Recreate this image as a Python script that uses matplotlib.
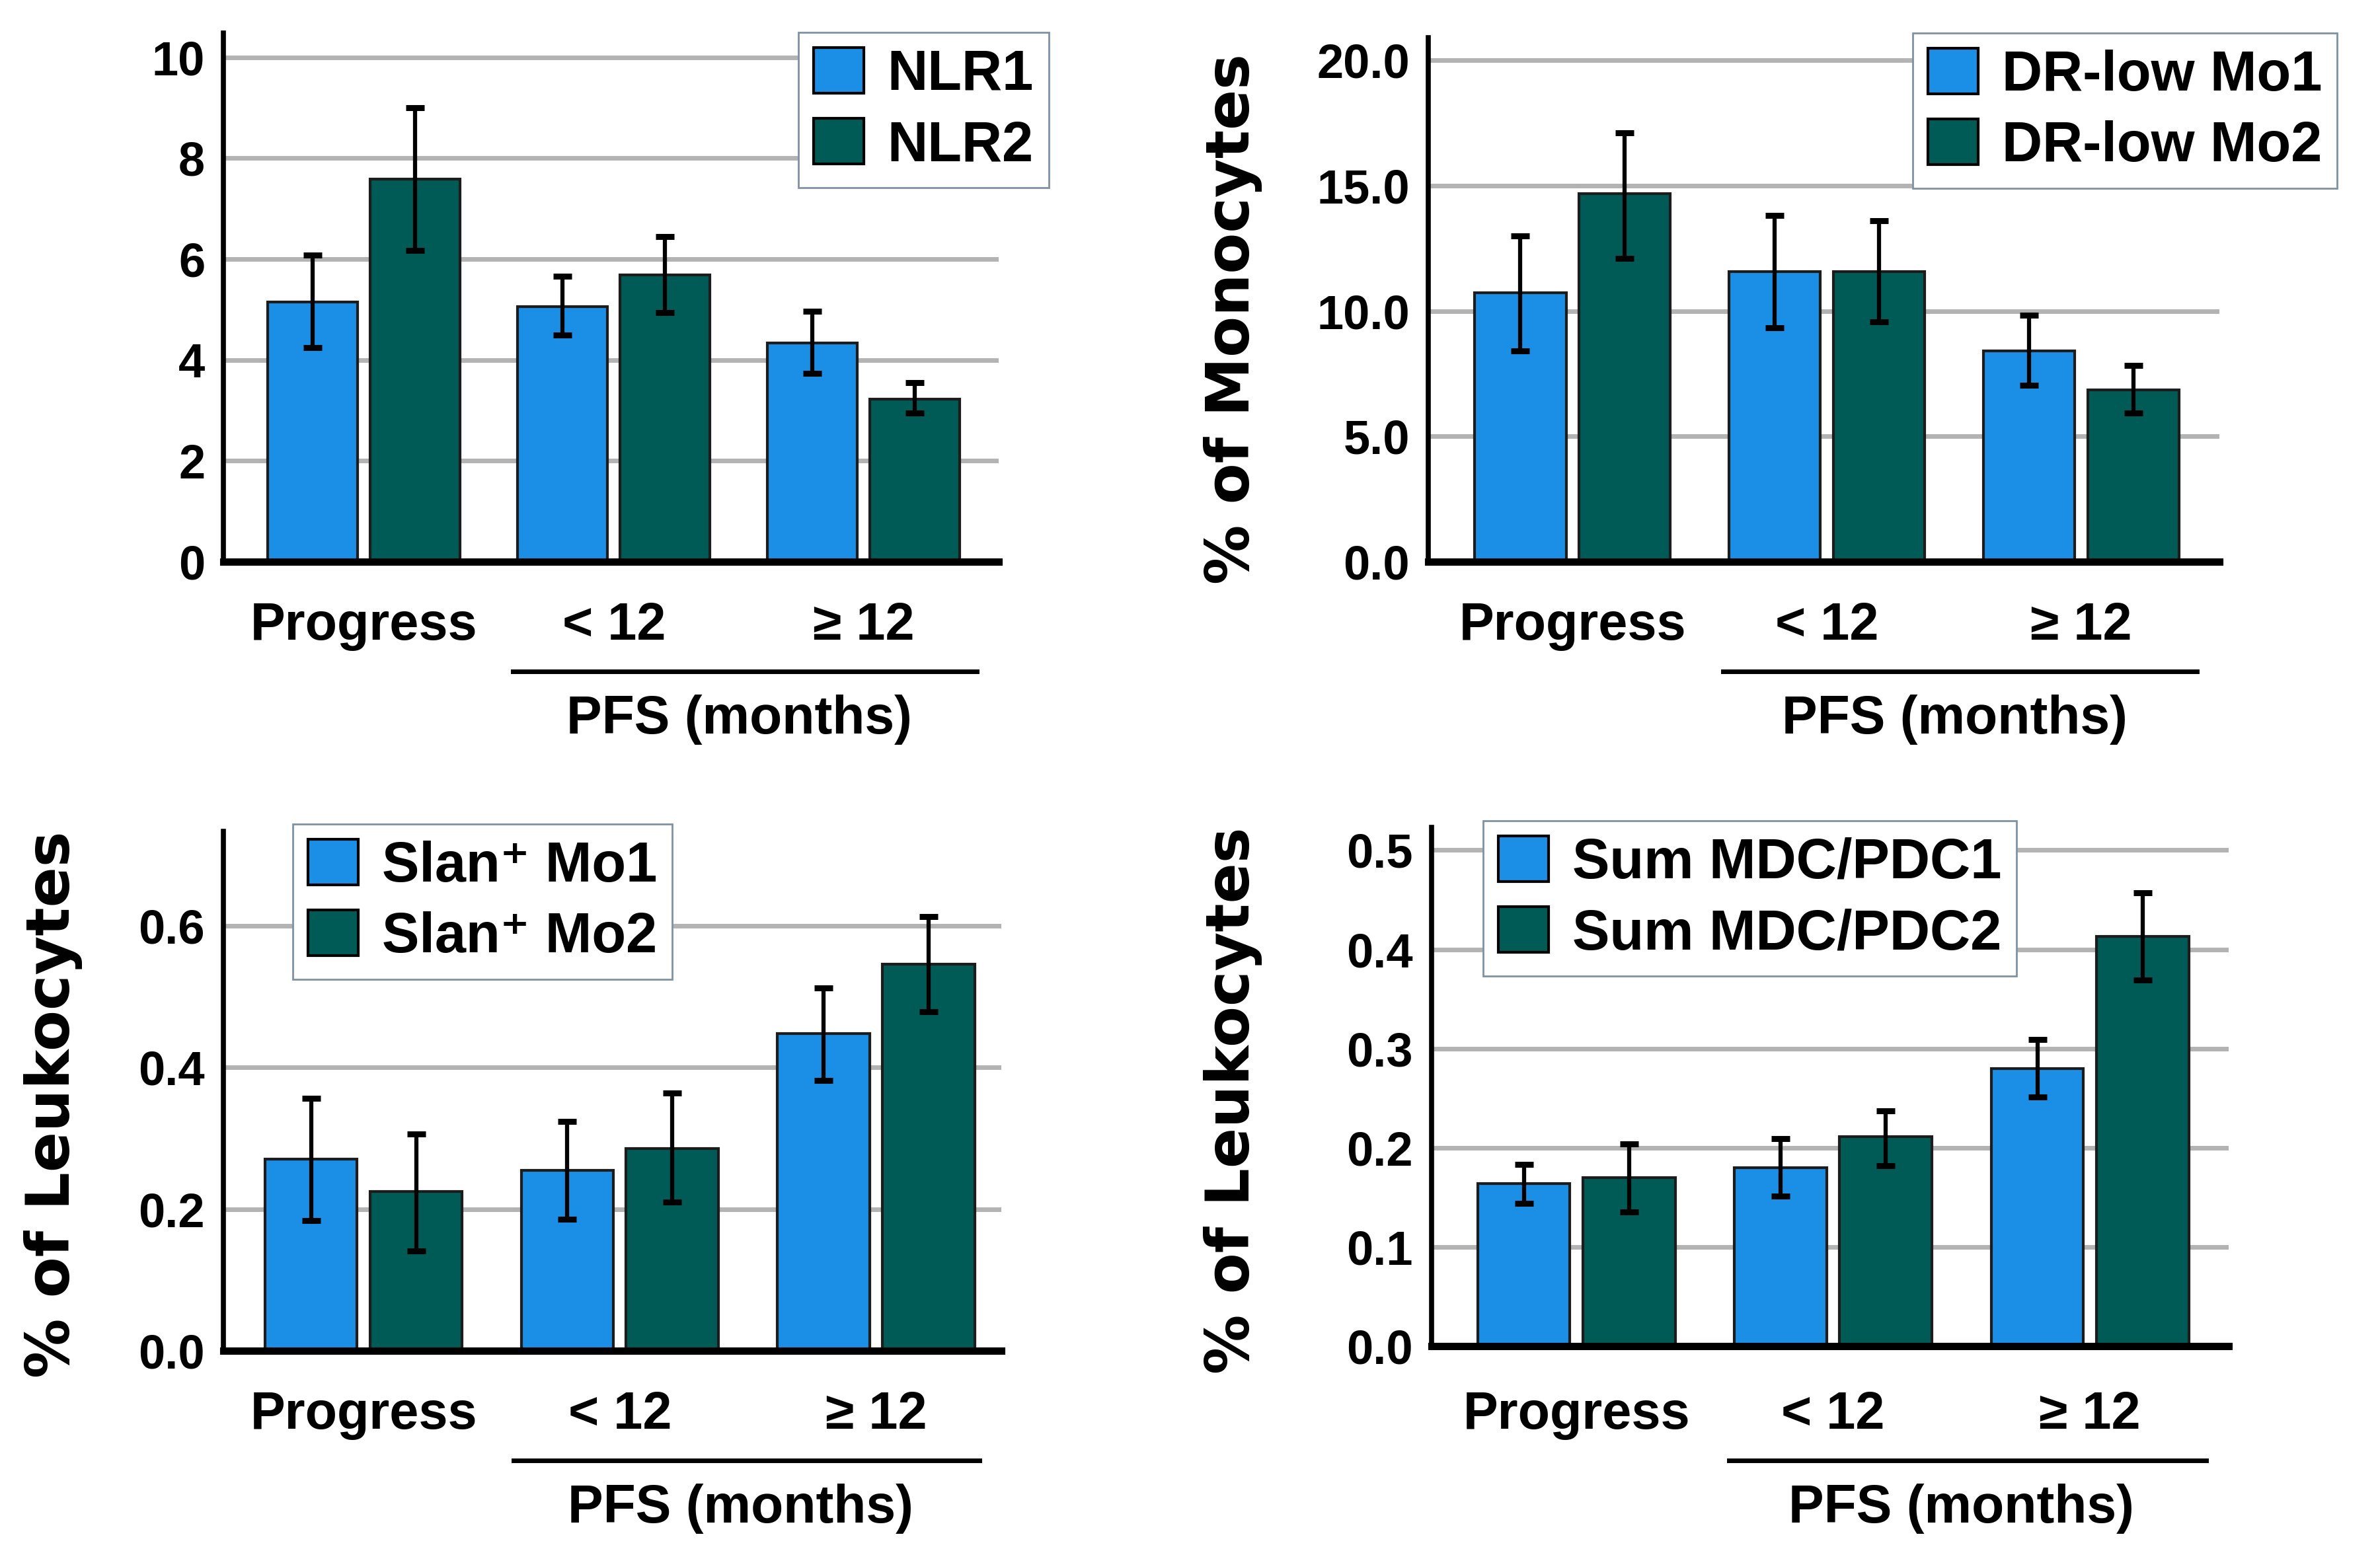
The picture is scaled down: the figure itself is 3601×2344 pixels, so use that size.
import matplotlib as mpl
import matplotlib.pyplot as plt
from matplotlib.patches import Patch
from matplotlib.transforms import ScaledTranslation
import numpy as np
mpl.use('Agg')

plt.rcParams['font.family'] = ['Liberation Sans', 'DejaVu Sans']
plt.rcParams['font.weight'] = 'bold'

# dados
grupos = ['Progress', '< 12', '≥ 12']

nlr1 = [5.15, 5.06, 4.34]
nlr1_lo = [4.25, 4.49, 3.73]
nlr1_hi = [6.08, 5.66, 4.97]
nlr2 = [7.59, 5.69, 3.22]
nlr2_lo = [6.17, 4.94, 2.95]
nlr2_hi = [9.00, 6.45, 3.55]

drlow1 = [10.73, 11.58, 8.42]
drlow1_lo = [8.42, 9.33, 7.03]
drlow1_hi = [13.0, 13.8, 9.82]
drlow2 = [14.67, 11.58, 6.85]
drlow2_lo = [12.1, 9.58, 5.94]
drlow2_hi = [17.1, 13.6, 7.82]

slan1 = [0.270, 0.255, 0.448]
slan1_lo = [0.184, 0.186, 0.381]
slan1_hi = [0.356, 0.324, 0.512]
slan2 = [0.225, 0.285, 0.546]
slan2_lo = [0.141, 0.210, 0.478]
slan2_hi = [0.306, 0.364, 0.613]

dc1 = [0.164, 0.180, 0.280]
dc1_lo = [0.144, 0.151, 0.251]
dc1_hi = [0.183, 0.209, 0.309]
dc2 = [0.170, 0.211, 0.413]
dc2_lo = [0.135, 0.182, 0.369]
dc2_hi = [0.204, 0.237, 0.457]

azul = '#1b8fe5'
verde = '#005b56'

fig = plt.figure(figsize=(36.01, 23.44), dpi=100)

paineis = [
    dict(pos=[0.0939, 0.6374, 0.3257, 0.3413], s1=(nlr1, nlr1_lo, nlr1_hi), s2=(nlr2, nlr2_lo, nlr2_hi),
         nomes=['NLR1', 'NLR2'], ylim=10.48, yticks=[0, 2, 4, 6, 8, 10], fmt='{:.0f}',
         xlim=(-0.563, 2.54), leg=(0.3355, 0.9791), ylabel=None, extra=0.0),
    dict(pos=[0.6001, 0.6374, 0.3324, 0.3382], s1=(drlow1, drlow1_lo, drlow1_hi), s2=(drlow2, drlow2_lo, drlow2_hi),
         nomes=['DR-low Mo1', 'DR-low Mo2'], ylim=20.9, yticks=[0, 5, 10, 15, 20], fmt='{:.1f}',
         xlim=(-0.567, 2.543), leg=(0.8037, 0.9787), ylabel=('% of Monocytes', 0.518, 0.794), extra=0.0),
    dict(pos=[0.0938, 0.1280, 0.3270, 0.3353], s1=(slan1, slan1_lo, slan1_hi), s2=(slan2, slan2_lo, slan2_hi),
         nomes=['Slan⁺ Mo1', 'Slan⁺ Mo2'], ylim=0.733, yticks=[0, 0.2, 0.4, 0.6], fmt='{:.1f}',
         xlim=(-0.548, 2.49), leg=(0.1230, 0.4680), ylabel=('% of Leukocytes', 0.0223, 0.287), extra=0.0),
    dict(pos=[0.6014, 0.1310, 0.3350, 0.3349], s1=(dc1, dc1_lo, dc1_hi), s2=(dc2, dc2_lo, dc2_hi),
         nomes=['Sum MDC/PDC1', 'Sum MDC/PDC2'], ylim=0.523, yticks=[0, 0.1, 0.2, 0.3, 0.4, 0.5], fmt='{:.1f}',
         xlim=(-0.565, 2.54), leg=(0.6232, 0.4701), ylabel=('% of Leukocytes', 0.518, 0.2897), extra=0.07),
]

x = np.arange(len(grupos))
larg = 0.36
desl = 0.205

for p in paineis:
    ax = fig.add_axes(p['pos'])
    for serie, cor, dx in [(p['s1'], azul, -desl), (p['s2'], verde, desl)]:
        m, lo, hi = [np.array(v) for v in serie]
        ax.bar(x + dx, m, width=larg, color=cor, edgecolor='#1c1c1c', linewidth=3, zorder=2)
        ax.errorbar(x + dx, m, yerr=[m - lo, hi - m], fmt='none', ecolor='black',
                    elinewidth=4.5, capsize=10, capthick=6.5, zorder=3)
    ax.set_xlim(*p['xlim'])
    ax.set_ylim(0, p['ylim'])
    ax.set_yticks(p['yticks'])
    ax.set_yticklabels([p['fmt'].format(t) for t in p['yticks']], fontsize=52, fontweight='bold')
    ax.set_xticks(x)
    ax.set_xticklabels(grupos, fontsize=57, fontweight='bold')
    ax.tick_params(axis='y', length=0, pad=20)
    ax.tick_params(axis='x', length=0, pad=43 + p['extra'] * 72)
    ax.set_axisbelow(True)
    ax.yaxis.grid(True, color='#b3b3b3', linewidth=5)
    for lado in ['top', 'right']:
        ax.spines[lado].set_visible(False)
    ax.spines['left'].set_linewidth(5.5)
    ax.spines['bottom'].set_linewidth(8)

    # linha do PFS
    t_linha = ax.transAxes + ScaledTranslation(0, -1.66 - p['extra'], fig.dpi_scale_trans)
    ax.plot([0.373, 0.972], [0, 0], color='black', linewidth=5, transform=t_linha, clip_on=False)
    t_txt = ax.transAxes + ScaledTranslation(0, -2.39 - p['extra'], fig.dpi_scale_trans)
    ax.text(0.665, 0, 'PFS (months)', transform=t_txt, ha='center', va='center',
            fontsize=58, fontweight='bold')

    handles = [Patch(facecolor=azul, edgecolor='black', linewidth=3),
               Patch(facecolor=verde, edgecolor='black', linewidth=3)]
    leg = ax.legend(handles, p['nomes'], loc='upper left', bbox_to_anchor=p['leg'],
                    bbox_transform=fig.transFigure, borderaxespad=0,
                    prop=dict(size=61, weight='bold'), handlelength=0.9, handleheight=0.88,
                    handletextpad=0.42, labelspacing=0.3, borderpad=0.27, fancybox=False,
                    framealpha=1)
    leg.get_frame().set_edgecolor('#7d92a6')
    leg.get_frame().set_linewidth(2)

    if p['ylabel']:
        txt, lx, ly = p['ylabel']
        fig.text(lx, ly, txt, rotation=90, ha='center', va='center', fontsize=65,
                 fontweight='bold', family='DejaVu Sans')

plt.savefig('out.png', dpi=100)
